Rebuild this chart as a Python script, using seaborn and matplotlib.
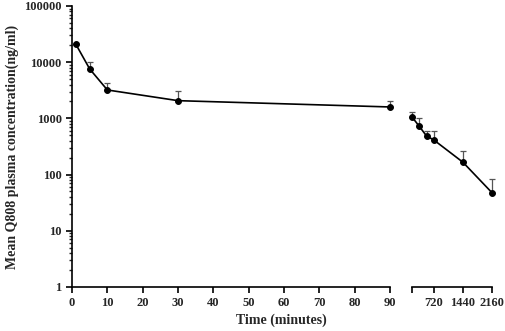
import numpy as np
import pandas as pd
import matplotlib
matplotlib.use("Agg")
import matplotlib.pyplot as plt
import matplotlib.ticker as mticker
import seaborn as sns

# Mean plasma concentration of Q808 (ng/ml) with upper SD
time_early = [1, 5, 10, 30, 90]
conc_early = [21300, 7570, 3200, 2065, 1595]
sd_early = [0, 2630, 1070, 1010, 470]

time_late = [180, 360, 540, 720, 1440, 2160]
conc_late = [1060, 723, 486, 413, 166, 47.6]
sd_late = [260, 293, 118, 191, 94, 37]

x_ticks_early = [0, 10, 20, 30, 40, 50, 60, 70, 80, 90]
x_ticks_late = [180, 720, 1440, 2160]
x_labels_late = ["", "720", "1440", "2160"]
y_ticks = [1, 10, 100, 1000, 10000, 100000]

sns.set_style("ticks")
plt.rcParams["font.family"] = ["Liberation Serif", "DejaVu Serif"]
plt.rcParams["font.weight"] = "bold"

fig = plt.figure(figsize=(5.05, 3.31), dpi=100)
ax1 = fig.add_axes([0.1426, 0.133, 0.630, 0.849])
ax2 = fig.add_axes([0.8158, 0.133, 0.1584, 0.849], sharey=ax1)

df_early = pd.DataFrame({"time": time_early, "conc": conc_early})
df_late = pd.DataFrame({"time": time_late, "conc": conc_late})

for ax, df, sd in [(ax1, df_early, sd_early), (ax2, df_late, sd_late)]:
    eb = ax.errorbar(df["time"], df["conc"], yerr=[np.zeros(len(sd)), sd],
                     fmt="none", ecolor="#555555", elinewidth=0.9, capsize=2.5, capthick=0.9, zorder=2)
    for art in eb.lines[1] + eb.lines[2]:
        art.set_clip_on(False)
    sns.lineplot(data=df, x="time", y="conc", ax=ax, color="black", lw=1.2,
                 marker="o", markersize=4.2, markeredgecolor="black", zorder=3)
    for ln in ax.lines:
        ln.set_clip_on(False)
    ax.set_xlabel("")
    ax.set_ylabel("")
    ax.tick_params(axis="both", direction="out", length=4.5, width=1.2, labelsize=9, color="black", pad=3)
    for s in ax.spines.values():
        s.set_linewidth(1.2)
        s.set_color("black")

ax1.set_yscale("log")
ax1.set_ylim(1, 100000)
ax1.yaxis.set_major_locator(mticker.FixedLocator(y_ticks))
ax1.yaxis.set_major_formatter(mticker.FixedFormatter([str(v) for v in y_ticks]))
ax1.yaxis.set_minor_locator(mticker.LogLocator(base=10, subs=np.arange(2, 10)))
ax1.yaxis.set_minor_formatter(mticker.NullFormatter())
ax1.tick_params(axis="y", which="minor", length=2.5, width=1.0)
ax1.set_xlim(0, 90)
ax1.set_xticks(x_ticks_early)
sns.despine(ax=ax1)

ax2.set_xlim(180, 2160)
ax2.set_xticks(x_ticks_late)
ax2.set_xticklabels(x_labels_late)
ax2.tick_params(axis="y", which="both", left=False, labelleft=False)
sns.despine(ax=ax2, left=True)

for ax in (ax1, ax2):
    for lab in ax.get_xticklabels() + ax.get_yticklabels():
        lab.set_fontweight("bold")

ax1.set_ylabel("Mean Q808 plasma concentration(ng/ml)", fontsize=10, fontweight="bold", labelpad=4)
fig.text(0.558, 0.012, "Time (minutes)", ha="center", va="bottom", fontsize=10, fontweight="bold")

fig.savefig("out.png", dpi=100)
